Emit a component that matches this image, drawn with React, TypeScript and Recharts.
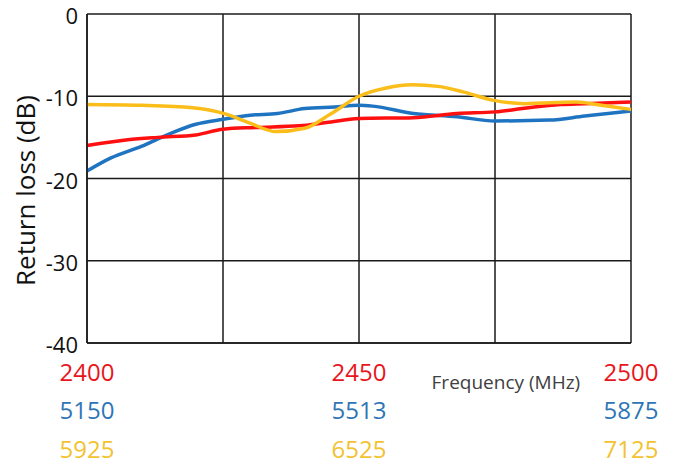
import { LineChart, Line, XAxis, YAxis, CartesianGrid } from "recharts";

// position along each band, 0 = band start, 100 = band end
const redPos = [0, 7.5, 13, 20, 25, 31, 39, 44, 50, 60, 68, 75, 80, 87, 91.5, 100];
const redLoss = [-16, -15.3, -15.0, -14.7, -14.0, -13.8, -13.6, -13.2, -12.7, -12.6, -12.1, -11.9, -11.5, -11.0, -10.9, -10.7];

const bluePos = [0, 4.4, 10, 15.4, 20, 25, 30, 35, 40, 45.5, 50, 52.5, 60, 68, 75, 85, 91.5, 100];
const blueLoss = [-19.1, -17.5, -16.1, -14.5, -13.4, -12.8, -12.3, -12.1, -11.5, -11.3, -11.1, -11.2, -12.1, -12.5, -13.0, -12.9, -12.4, -11.8];

const yellowPos = [0, 10, 19.4, 25.7, 29.7, 34.8, 40, 44.7, 50, 55, 59.8, 64.5, 69.3, 74.8, 80.4, 89.9, 94.6, 100];
const yellowLoss = [-11.0, -11.1, -11.4, -12.2, -13.2, -14.3, -13.9, -12.2, -10.0, -9.0, -8.6, -8.8, -9.5, -10.5, -10.9, -10.7, -11.1, -11.6];

const gridTicks = [0, 25, 50, 75, 100];
const yTicks = [0, -10, -20, -30, -40];
const redLabels = ["2400", "2450", "2500"];
const blueLabels = ["5150", "5513", "5875"];
const yellowLabels = ["5925", "6525", "7125"];

const RED = "#ff1010";
const BLUE = "#1f74c2";
const YELLOW = "#fbbd1a";
const FONT = "'Open Sans', sans-serif";

const toPoints = (xs: number[], ys: number[]) => xs.map((x, i) => ({ x, y: ys[i] }));

const redData = toPoints(redPos, redLoss);
const blueData = toPoints(bluePos, blueLoss);
const yellowData = toPoints(yellowPos, yellowLoss);

function FreqTick(props: any) {
  const { x, y, payload } = props;
  const idx = [0, 50, 100].indexOf(payload.value);
  if (idx < 0) return null;
  const rows: [string, string, number][] = [
    [redLabels[idx], "#e8161c", 28],
    [blueLabels[idx], "#2e75b6", 66],
    [yellowLabels[idx], "#f2c230", 105],
  ];
  return (
    <g>
      {rows.map(([txt, color, dy]) => (
        <text
          key={txt}
          x={x}
          y={y + dy}
          textAnchor="middle"
          dominantBaseline="central"
          fill={color}
          fontSize={24}
          fontFamily={FONT}
        >
          {txt}
        </text>
      ))}
    </g>
  );
}

function LossTick(props: any) {
  const { x, y, payload } = props;
  return (
    <text x={x} y={y + 1} textAnchor="end" dominantBaseline="central" fill="#111" fontSize={22} fontFamily={FONT}>
      {payload.value}
    </text>
  );
}

export default function App() {
  return (
    <div style={{ position: "absolute", left: 0, top: 0, background: "#fff" }}>
      <LineChart width={673} height={465} margin={{ top: 14, right: 42, left: 0, bottom: 0 }}>
        <CartesianGrid stroke="#1a1a1a" strokeWidth={1.5} />
        <XAxis
          type="number"
          dataKey="x"
          domain={[0, 100]}
          ticks={gridTicks}
          height={122}
          tickLine={false}
          tickSize={0}
          tickMargin={0}
          axisLine={{ stroke: "#1a1a1a", strokeWidth: 1.5 }}
          tick={<FreqTick />}
          interval={0}
          label={{
            content: (p: any) => {
              const vb = p.viewBox;
              return (
                <text
                  x={vb.x + vb.width * 0.77}
                  y={vb.y + 39}
                  textAnchor="middle"
                  dominantBaseline="central"
                  fontSize={19}
                  fontFamily={FONT}
                  fill="#404040"
                >
                  Frequency (MHz)
                </text>
              );
            },
          }}
        />
        <YAxis
          type="number"
          domain={[-40, 0]}
          ticks={yTicks}
          width={87}
          tickLine={false}
          tickSize={0}
          tickMargin={9}
          axisLine={{ stroke: "#1a1a1a", strokeWidth: 1.5 }}
          tick={<LossTick />}
          interval={0}
          label={{
            content: (p: any) => {
              const vb = p.viewBox;
              const cy = vb.y + vb.height / 2 + 12;
              return (
                <text
                  x={25}
                  y={cy}
                  transform={`rotate(-90, 25, ${cy})`}
                  textAnchor="middle"
                  dominantBaseline="central"
                  fontSize={26}
                  fontFamily={FONT}
                  fill="#111"
                >
                  Return loss (dB)
                </text>
              );
            },
          }}
        />
        <Line data={blueData} dataKey="y" type="monotone" stroke={BLUE} strokeWidth={3.5} dot={false} isAnimationActive={false} />
        <Line data={redData} dataKey="y" type="monotone" stroke={RED} strokeWidth={3.5} dot={false} isAnimationActive={false} />
        <Line data={yellowData} dataKey="y" type="monotone" stroke={YELLOW} strokeWidth={3.5} dot={false} isAnimationActive={false} />
      </LineChart>
    </div>
  );
}
